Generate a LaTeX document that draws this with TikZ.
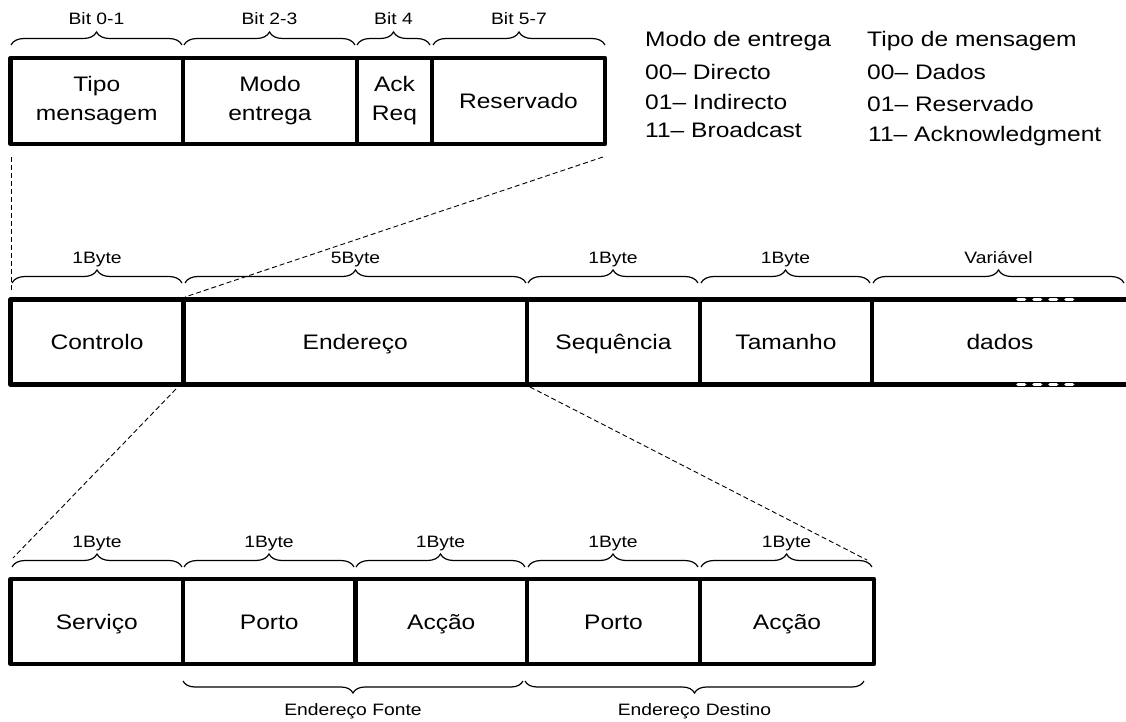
\documentclass[tikz,border=0pt]{standalone}
\usepackage{fontspec}
\setmainfont{Liberation Sans}[FakeStretch=1.17]
\usetikzlibrary{decorations.pathreplacing,calc}

\begin{document}
\begin{tikzpicture}[x=1pt,y=-1pt,
  bigfont/.style={font=\fontsize{21pt}{29pt}\selectfont},
  smallfont/.style={font=\fontsize{16.5pt}{20pt}\selectfont},
  frame/.style={line width=4.2pt, line join=round},
  cell/.style={draw, frame, inner sep=0pt, outer sep=0pt, bigfont,
    text height=15pt, text depth=0pt, anchor=center},
  cellml/.style={draw, frame, inner sep=0pt, outer sep=0pt, bigfont,
    align=center, anchor=center},
  bracedec/.style={decorate, decoration={brace, amplitude=13pt}, line width=1.2pt},
  bracedown/.style={decorate, decoration={brace, mirror, amplitude=12pt}, line width=1.2pt},
  toplabel/.style={midway, anchor=base, yshift=20pt, smallfont},
  underlabel/.style={midway, anchor=base, yshift=-34pt, smallfont},
  zoomline/.style={line width=0.9pt, dash pattern=on 5pt off 3pt},
  gapdots/.style={white, line width=3.6pt, line cap=round, dash pattern=on 6.5pt off 9.5pt},
  legend/.style={bigfont, anchor=base west, inner sep=0pt}
]
\useasboundingbox[fill=white] (0,0) rectangle (1126,722);

% ---------- control byte: bit fields ----------
\node[cellml, minimum width=172.5pt, minimum height=86pt] (tipo) at (96.75,101) {Tipo\\mensagem};
\node[cellml, minimum width=174pt, minimum height=86pt] (modo) at (270,101) {Modo\\entrega};
\node[cellml, minimum width=75pt, minimum height=86pt] (ack) at (394.5,101) {Ack\\Req};
\node[cell, minimum width=173pt, minimum height=86pt] (resv) at (518.5,101) {Reservado};

\draw[bracedec] (11,45) -- (182,45) node[toplabel] (b01) {Bit 0-1};
\draw[bracedec] (184,45) -- (355,45) node[toplabel] (b23) {Bit 2-3};
\draw[bracedec] (357,45) -- (430,45) node[toplabel] (b4) {Bit 4};
\draw[bracedec] (433,45) -- (605,45) node[toplabel] (b57) {Bit 5-7};

% ---------- legend ----------
\node[legend] (lm0) at (645,47) {Modo de entrega};
\node[legend] (lm1) at (645,80) {00– Directo};
\node[legend] (lm2) at (645,110) {01– Indirecto};
\node[legend] (lm3) at (645,138) {11– Broadcast};
\node[legend] (lt0) at (867,47) {Tipo de mensagem};
\node[legend] (lt1) at (867,80) {00– Dados};
\node[legend] (lt2) at (867,112) {01– Reservado};
\node[legend] (lt3) at (868,142) {11– Acknowledgment};

% ---------- frame ----------
\node[cell, minimum width=173pt, minimum height=85pt] (ctrl) at (97,342) {Controlo};
\node[cell, minimum width=343.5pt, minimum height=85pt] (ender) at (355.25,342) {Endereço};
\node[cell, minimum width=173pt, minimum height=85pt] (seq) at (613.5,342) {Sequência};
\node[cell, minimum width=172pt, minimum height=85pt] (tam) at (786,342) {Tamanho};
\node[cell, draw=none, minimum width=256pt, minimum height=85pt] (dados) at (1000,342) {dados};
\draw[frame] (dados.north east) -- (dados.north west) -- (dados.south west) -- (dados.south east);
% open-ended data field
\draw[gapdots] ($(dados.north west)+(146,0)$) -- ++(55,0);
\draw[gapdots] ($(dados.south west)+(146,0)$) -- ++(55,0);

\draw[bracedec] (12,283) -- (182,283) node[toplabel] (m1) {1Byte};
\draw[bracedec] (185,283) -- (526,283) node[toplabel] (m2) {5Byte};
\draw[bracedec] (528,283) -- (698,283) node[toplabel] (m3) {1Byte};
\draw[bracedec] (701,283) -- (870,283) node[toplabel] (m4) {1Byte};
\draw[bracedec] (873,283) -- (1124,283) node[toplabel] (m5) {Variável};

% ---------- address field ----------
\node[cell, minimum width=172.5pt, minimum height=85pt] (serv) at (96.75,621.5) {Serviço};
\node[cell, minimum width=172.5pt, minimum height=85pt] (portoA) at (269.25,621.5) {Porto};
\node[cell, minimum width=171.5pt, minimum height=85pt] (accA) at (441.25,621.5) {Acção};
\node[cell, minimum width=173pt, minimum height=85pt] (portoB) at (613.5,621.5) {Porto};
\node[cell, minimum width=174pt, minimum height=85pt] (accB) at (787,621.5) {Acção};

\draw[bracedec] (12,567) -- (182,567) node[toplabel] (a1) {1Byte};
\draw[bracedec] (184,567) -- (354,567) node[toplabel] (a2) {1Byte};
\draw[bracedec] (356,567) -- (525,567) node[toplabel] (a3) {1Byte};
\draw[bracedec] (528,567) -- (698,567) node[toplabel] (a4) {1Byte};
\draw[bracedec] (701,567) -- (872,567) node[toplabel] (a5) {1Byte};

\draw[bracedown] (183,681) -- (523,681) node[underlabel] (fonte) {Endereço Fonte};
\draw[bracedown] (525,681) -- (864,681) node[underlabel] (destino) {Endereço Destino};

% ---------- zoom lines ----------
\coordinate (zA1) at (11,157);
\coordinate (zA2) at (11,291);
\coordinate (zB1) at (603,157);
\coordinate (zB2) at (185,297);
\coordinate (zC1) at (176,389);
\coordinate (zC2) at (13,558);
\coordinate (zD1) at (530,387);
\coordinate (zD2) at (867,560);
\draw[zoomline] (zA1) -- (zA2);
\draw[zoomline] (zB1) -- (zB2);
\draw[zoomline] (zC1) -- (zC2);
\draw[zoomline] (zD1) -- (zD2);
\end{tikzpicture}
\end{document}
